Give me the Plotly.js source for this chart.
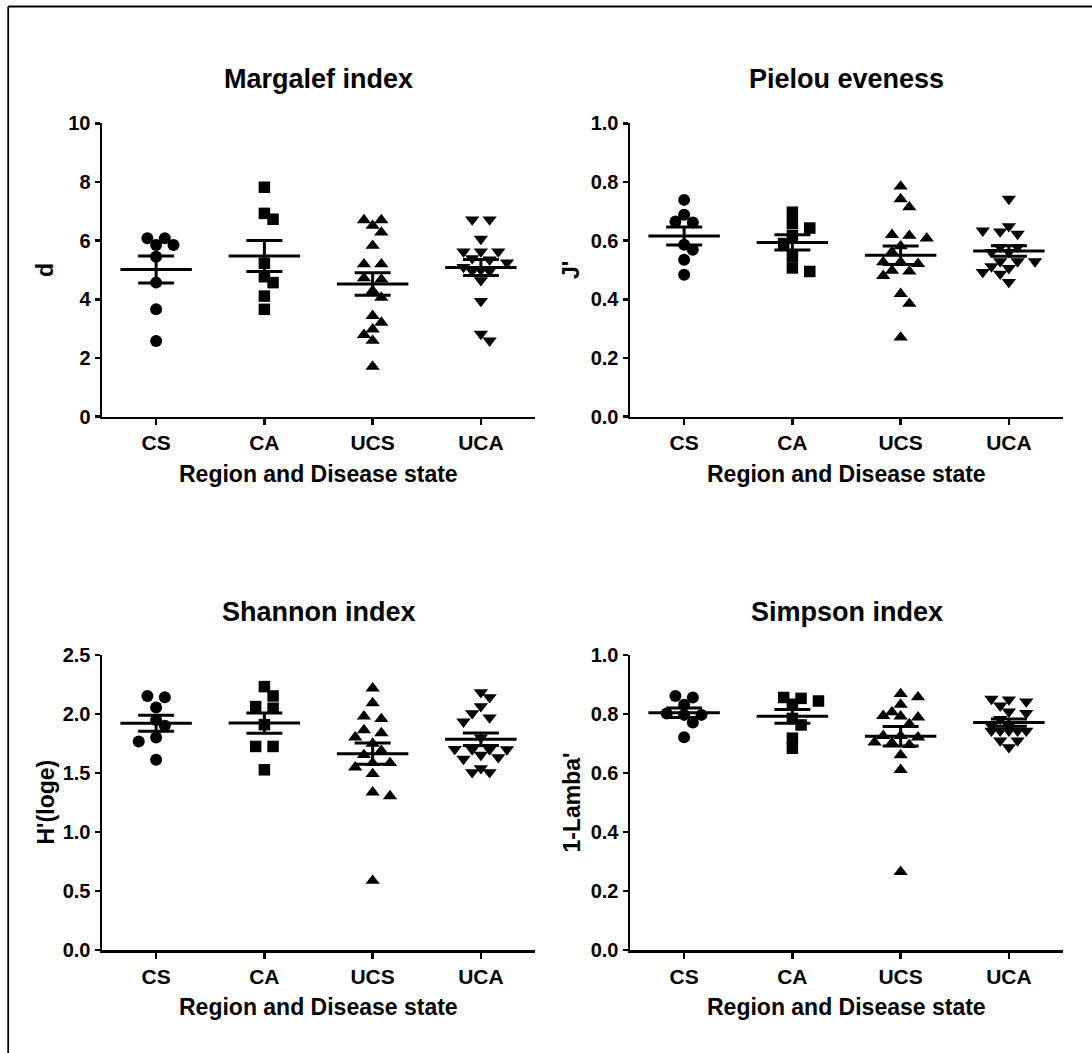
<!DOCTYPE html>
<html>
<head>
<meta charset="utf-8">
<script src="https://cdn.plot.ly/plotly-3.0.1.min.js"></script>
<style>
html,body{margin:0;padding:0;background:#ffffff;}
#chart{width:1092px;height:1053px;}
</style>
</head>
<body>
<div id="chart"></div>
<script>
// ---------------- DATA ----------------
const categories = ['CS', 'CA', 'UCS', 'UCA'];
const panelTitles = ['Margalef index', 'Pielou eveness', 'Shannon index', 'Simpson index'];
const yTitles = ['d', "J'", "H'(loge)", "1-Lamba'"];
const xTitle = 'Region and Disease state';

const margalefCS  = [6.08, 6.08, 5.85, 5.85, 5.45, 4.57, 3.66, 2.58];
const margalefCA  = [7.82, 6.93, 6.73, 5.23, 4.77, 4.57, 4.11, 3.66];
const margalefUCS = [6.70, 6.70, 6.51, 6.28, 5.83, 5.20, 5.20, 4.72, 4.68, 4.29, 4.06, 3.44, 3.21, 2.98, 2.79, 2.59, 1.71];
const margalefUCA = [6.72, 6.72, 6.06, 5.63, 5.63, 5.63, 5.40, 5.35, 5.25, 5.10, 5.00, 4.97, 4.97, 4.65, 3.94, 2.82, 2.59];

const pielouCS  = [0.739, 0.688, 0.665, 0.662, 0.586, 0.569, 0.535, 0.484];
const pielouCA  = [0.697, 0.658, 0.643, 0.617, 0.590, 0.546, 0.507, 0.495];
const pielouUCS = [0.785, 0.742, 0.714, 0.620, 0.617, 0.608, 0.581, 0.561, 0.527, 0.527, 0.521, 0.498, 0.495, 0.480, 0.419, 0.385, 0.270];
const pielouUCA = [0.742, 0.649, 0.634, 0.631, 0.623, 0.578, 0.578, 0.561, 0.561, 0.529, 0.529, 0.529, 0.512, 0.506, 0.493, 0.487, 0.459];

const shannonCS  = [2.153, 2.142, 2.055, 1.950, 1.900, 1.800, 1.767, 1.612];
const shannonCA  = [2.232, 2.153, 2.063, 2.049, 1.910, 1.725, 1.725, 1.527];
const shannonUCS = [2.218, 2.093, 1.980, 1.958, 1.864, 1.839, 1.802, 1.750, 1.689, 1.653, 1.585, 1.585, 1.548, 1.492, 1.336, 1.305, 0.587];
const shannonUCA = [2.184, 2.141, 2.065, 2.006, 1.970, 1.935, 1.800, 1.703, 1.700, 1.700, 1.700, 1.653, 1.633, 1.619, 1.540, 1.506, 1.506];

const simpsonCS  = [0.861, 0.856, 0.831, 0.802, 0.797, 0.797, 0.771, 0.721];
const simpsonCA  = [0.856, 0.853, 0.844, 0.833, 0.785, 0.763, 0.718, 0.684];
const simpsonUCS = [0.868, 0.857, 0.832, 0.806, 0.794, 0.792, 0.789, 0.766, 0.726, 0.726, 0.721, 0.704, 0.702, 0.695, 0.661, 0.611, 0.265];
const simpsonUCA = [0.851, 0.849, 0.842, 0.828, 0.808, 0.803, 0.783, 0.760, 0.760, 0.743, 0.743, 0.743, 0.743, 0.743, 0.710, 0.710, 0.687];

const panelData = [
  [margalefCS, margalefCA, margalefUCS, margalefUCA],
  [pielouCS, pielouCA, pielouUCS, pielouUCA],
  [shannonCS, shannonCA, shannonUCS, shannonUCA],
  [simpsonCS, simpsonCA, simpsonUCS, simpsonUCA]
];

// ---------------- STYLE / LAYOUT ----------------
const W = 1092, H = 1053;
const FONT = 'Liberation Sans, Arial, Helvetica, sans-serif';
const symbols = ['circle', 'square', 'triangle-up', 'triangle-down'];
const symSize = [12, 11.5, 12.5, 12.5];
const yRanges = [[0, 10], [0, 1], [0, 2.5], [0, 1]];
const yDticks = [2, 0.2, 0.5, 0.2];
const yFormats = ['d', '.1f', '.1f', '.1f'];
// pixel boxes of the four plot areas [left, right, top, bottom]
const boxes = [
  [102, 535, 123.3, 416.7],
  [630, 1063, 123.3, 416.7],
  [102, 535, 655, 950],
  [630, 1063, 655, 950]
];
const titleY = [79.4, 79.4, 612, 612];
const xTitleY = [474, 474, 1007, 1007];
const yTitleX = [45, 571, 45, 571];
const meanHalf = 0.33;   // half width of mean line (category units)

function mean(a) { return a.reduce((s, v) => s + v, 0) / a.length; }
function sem(a) {
  const m = mean(a);
  const v = a.reduce((s, x) => s + (x - m) * (x - m), 0) / (a.length - 1);
  return Math.sqrt(v) / Math.sqrt(a.length);
}

// Beeswarm placement: horizontal offsets (category units), limited spread like a scatter dot plot
function swarm(vals, pxPerY, pxPerX) {
  const D = 10, step = 8.7, maxX = 3 * step + 0.1;
  const idx = vals.map((v, i) => i).sort((a, b) => vals[b] - vals[a]);
  const placed = [];
  const out = new Array(vals.length).fill(0);
  let g = 0;
  while (g < idx.length) {
    const y0 = vals[idx[g]] * pxPerY;
    let h = g + 1;
    while (h < idx.length && Math.abs(vals[idx[h]] * pxPerY - y0) < 3) h++;
    const grp = idx.slice(g, h);
    const n = grp.length;
    let bal = 0;
    placed.forEach(p => { if (Math.abs(p.y - y0) < 2 * D) bal += p.x; });
    const pref = bal > 0 ? -1 : 1;
    let chosen = null, best = null, bestScore = -1;
    for (let s = 0; s < 8 && !chosen; s++) {
      const shifts = s === 0 ? [0] : [pref * s, -pref * s];
      for (const sh of shifts) {
        const xs = grp.map((_, k) => (k - (n - 1) / 2) * 2 * step + sh * step);
        if (xs.some(x => Math.abs(x) > maxX)) continue;
        let score = Infinity;
        grp.forEach((id, k) => placed.forEach(p => {
          score = Math.min(score, Math.hypot(p.x - xs[k], p.y - vals[id] * pxPerY));
        }));
        if (score >= D) { chosen = xs; break; }
        if (score > bestScore) { bestScore = score; best = xs; }
      }
    }
    const xs = chosen || best || grp.map((_, k) => (k - (n - 1) / 2) * step);
    grp.forEach((id, k) => { placed.push({ x: xs[k], y: vals[id] * pxPerY }); out[id] = xs[k] / pxPerX; });
    g = h;
  }
  return out;
}

const traces = [];
const layout = {
  width: W, height: H,
  margin: { l: 0, r: 0, t: 0, b: 0 },
  paper_bgcolor: '#ffffff',
  plot_bgcolor: '#ffffff',
  showlegend: false,
  font: { family: FONT, color: '#000000' },
  annotations: [],
  shapes: [
    { type: 'line', xref: 'paper', yref: 'paper', x0: 8.2 / W, x1: 1, y0: 1 - 6.5 / H, y1: 1 - 6.5 / H, line: { color: '#000', width: 1.8 } },
    { type: 'line', xref: 'paper', yref: 'paper', x0: 8.2 / W, x1: 8.2 / W, y0: 0, y1: 1 - 6.5 / H, line: { color: '#000', width: 1.8 } }
  ]
};

panelData.forEach((groups, p) => {
  const sfx = p === 0 ? '' : String(p + 1);
  const xa = 'x' + sfx, ya = 'y' + sfx;
  const b = boxes[p];
  const pxPerX = (b[1] - b[0]) / 4;
  const pxPerY = (b[3] - b[2]) / (yRanges[p][1] - yRanges[p][0]);

  layout['xaxis' + sfx] = {
    domain: [b[0] / W, b[1] / W],
    anchor: ya,
    range: [-0.5, 3.5],
    tickmode: 'array',
    tickvals: categories.map((c, i) => i),
    ticktext: categories,
    showline: true, linecolor: '#000', linewidth: 2.5,
    ticks: 'outside', ticklen: 6, tickwidth: 2.5, tickcolor: '#000',
    showgrid: false, zeroline: false,
    tickfont: { family: FONT, size: 21, weight: 700, color: '#000' },
    fixedrange: true
  };
  layout['yaxis' + sfx] = {
    domain: [1 - b[3] / H, 1 - b[2] / H],
    anchor: xa,
    range: yRanges[p],
    tick0: 0, dtick: yDticks[p], tickformat: yFormats[p],
    showline: true, linecolor: '#000', linewidth: 2.5,
    ticks: 'outside', ticklen: 5, tickwidth: 2.5, tickcolor: '#000',
    showgrid: false, zeroline: false,
    tickfont: { family: FONT, size: 20, weight: 700, color: '#000' },
    fixedrange: true
  };

  layout.annotations.push({
    text: panelTitles[p], xref: 'paper', yref: 'paper',
    x: (b[0] + b[1]) / 2 / W, y: 1 - titleY[p] / H,
    xanchor: 'center', yanchor: 'middle', showarrow: false,
    font: { family: FONT, size: 27, weight: 700, color: '#000' }
  });
  layout.annotations.push({
    text: xTitle, xref: 'paper', yref: 'paper',
    x: (b[0] + b[1]) / 2 / W, y: 1 - xTitleY[p] / H,
    xanchor: 'center', yanchor: 'middle', showarrow: false,
    font: { family: FONT, size: 23, weight: 700, color: '#000' }
  });
  layout.annotations.push({
    text: yTitles[p], xref: 'paper', yref: 'paper',
    x: yTitleX[p] / W, y: 1 - (b[2] + b[3]) / 2 / H,
    xanchor: 'center', yanchor: 'middle', showarrow: false, textangle: -90,
    font: { family: FONT, size: 23, weight: 700, color: '#000' }
  });

  groups.forEach((vals, gi) => {
    const offs = swarm(vals, pxPerY, pxPerX);
    traces.push({
      type: 'scatter', mode: 'markers', xaxis: xa, yaxis: ya,
      x: vals.map((v, k) => gi + offs[k]), y: vals,
      marker: { symbol: symbols[gi], size: symSize[gi], color: '#000', line: { width: 0 } },
      hoverinfo: 'y', cliponaxis: false
    });
    const m = mean(vals), e = sem(vals);
    traces.push({
      type: 'scatter', mode: 'lines', xaxis: xa, yaxis: ya,
      x: [gi - meanHalf, gi + meanHalf], y: [m, m],
      line: { color: '#000', width: 3 }, hoverinfo: 'skip'
    });
    traces.push({
      type: 'scatter', mode: 'markers', xaxis: xa, yaxis: ya,
      x: [gi], y: [m],
      marker: { size: 1, color: '#000' },
      error_y: { type: 'data', array: [e], visible: true, color: '#000', thickness: 3, width: 18 },
      hoverinfo: 'skip'
    });
  });
});

Plotly.newPlot('chart', traces, layout, { displayModeBar: false, staticPlot: true });
</script>
</body>
</html>
